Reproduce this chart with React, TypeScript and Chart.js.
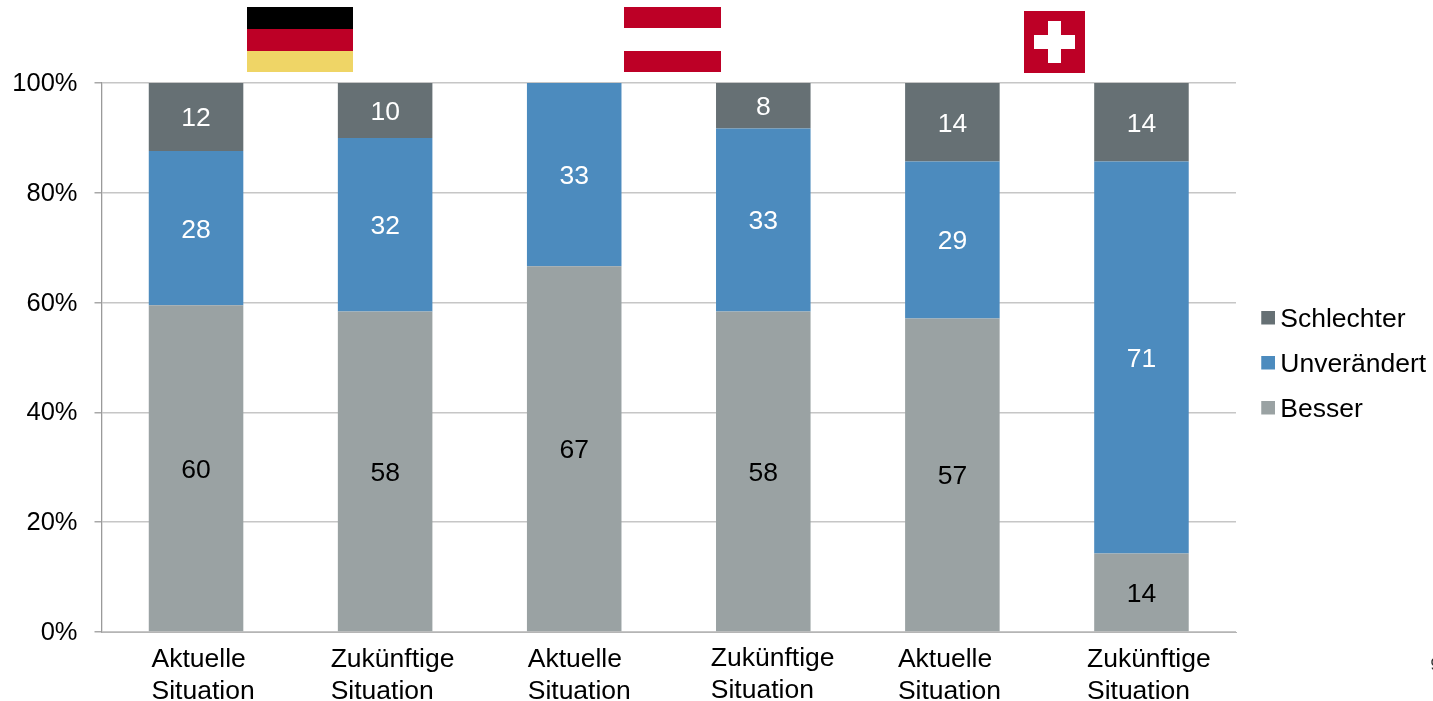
import { useEffect, useRef } from "react";
import { Chart, registerables } from "chart.js";

Chart.register(...registerables);

const categories = ["Aktuelle\nSituation", "Zukünftige\nSituation", "Aktuelle\nSituation", "Zukünftige\nSituation", "Aktuelle\nSituation", "Zukünftige\nSituation"];
const besser = [59.5, 58.4, 66.6, 58.4, 57.1, 14.3];
const unveraendert = [28.1, 31.6, 33.4, 33.3, 28.6, 71.4];
const schlechter = [12.4, 10, 0, 8.3, 14.3, 14.3];
const yTicks = [0, 20, 40, 60, 80, 100];

const FONT = '"Liberation Sans", Arial, sans-serif';
const GREY = "#9AA2A3";
const BLUE = "#4C8BBE";
const DARK = "#667074";
const RED = "#BD0026";
const BLACK = "#000000";

// horizontal shift and vertical baseline of each two-line category caption, relative to its bar
const captionShift = [-44.5, -54.5, -46.5, -52.5, -54.5, -54.5];
const captionY = [660, 660, 660, 659, 660, 660];

function legendMarker(color: string) {
  const c = document.createElement("canvas");
  c.width = 29;
  c.height = 18;
  const g = c.getContext("2d")!;
  g.fillStyle = color;
  g.fillRect(15, 0, 14, 14);
  return c;
}

const decorations = {
  id: "decorations",
  afterDatasetsDraw(chart: any) {
    const { ctx } = chart;
    ctx.save();
    // value labels
    ctx.font = `26.5px ${FONT}`;
    ctx.textAlign = "center";
    ctx.textBaseline = "middle";
    chart.data.datasets.forEach((ds: any, di: number) => {
      const meta = chart.getDatasetMeta(di);
      meta.data.forEach((bar: any, i: number) => {
        const v = ds.data[i];
        if (!v) return;
        ctx.fillStyle = di === 0 ? "#000000" : "#FFFFFF";
        ctx.fillText(String(Math.round(v)), bar.x, (bar.y + bar.base) / 2 + 2);
      });
    });
    // category captions (left aligned, individually placed)
    const xs = chart.scales.x;
    ctx.fillStyle = "#000000";
    ctx.textAlign = "left";
    chart.data.labels.forEach((lab: string, i: number) => {
      const x = xs.getPixelForTick(i) + captionShift[i];
      lab.split("\n").forEach((line, k) => ctx.fillText(line, x, captionY[i] + k * 32));
    });
    // flags
    const r = (c: string, x: number, y: number, w: number, h: number) => {
      ctx.fillStyle = c;
      ctx.fillRect(x, y, w, h);
    };
    r(BLACK, 247, 7, 106, 22);
    r(RED, 247, 29, 106, 22);
    r("#EFD566", 247, 51, 106, 21);
    r(RED, 624, 7, 97, 65);
    r("#FFFFFF", 624, 28, 97, 23);
    r(RED, 1024, 11, 61, 62);
    r("#FFFFFF", 1034, 35, 41, 14);
    r("#FFFFFF", 1048, 21, 13, 42);
    // clipped page number
    ctx.fillStyle = "#333333";
    ctx.font = `16px ${FONT}`;
    ctx.fillText("9", 1430.5, 666);
    ctx.restore();
  },
};

export default function App() {
  const ref = useRef<HTMLCanvasElement>(null);
  useEffect(() => {
    const chart = new Chart(ref.current!, {
      type: "bar",
      data: {
        labels: categories,
        datasets: [
          { label: "Besser", data: besser, backgroundColor: GREY },
          { label: "Unverändert", data: unveraendert, backgroundColor: BLUE },
          { label: "Schlechter", data: schlechter, backgroundColor: DARK },
        ],
      },
      options: {
        responsive: false,
        animation: false,
        layout: { padding: { top: 83, right: 0, bottom: 55, left: 0 } },
        datasets: { bar: { categoryPercentage: 1, barPercentage: 0.5 } },
        plugins: {
          tooltip: { enabled: false },
          legend: {
            position: "right",
            align: "center",
            maxWidth: 197,
            reverse: true,
            labels: {
              color: "#000000",
              font: { family: FONT, size: 26.5 },
              padding: 18.5,
              usePointStyle: true,
              pointStyleWidth: 12.5,
              generateLabels(chart: any) {
                return chart.data.datasets.map((ds: any, i: number) => ({
                  text: ds.label,
                  datasetIndex: i,
                  fontColor: "#000000",
                  fillStyle: ds.backgroundColor,
                  strokeStyle: ds.backgroundColor,
                  lineWidth: 0,
                  pointStyle: legendMarker(ds.backgroundColor),
                }));
              },
            },
          },
        },
        scales: {
          x: {
            stacked: true,
            afterFit(a: any) { a.height = 14; },
            ticks: { display: false },
            grid: { display: false },
            border: { color: "#B5B5B5", width: 1 },
          },
          y: {
            stacked: true,
            min: 0,
            max: 100,
            afterFit(a: any) { a.width = 101.5; },
            afterBuildTicks(a: any) { a.ticks = yTicks.map((value) => ({ value })); },
            ticks: {
              color: "#000000",
              padding: 17,
              labelOffset: 1,
              font: { family: FONT, size: 25.5 },
              callback: (v: any) => `${v}%`,
            },
            grid: { color: "#C6C6C6", lineWidth: 1.5, tickLength: 7, tickColor: "#A8A8A8" },
            border: { color: "#9A9A9A", width: 1.3 },
          },
        },
      } as any,
      plugins: [decorations],
    });
    return () => chart.destroy();
  }, []);
  return (
    <canvas
      ref={ref}
      width={1433}
      height={701}
      style={{ position: "absolute", left: 0, top: 0, display: "block", background: "#FFFFFF" }}
    />
  );
}
